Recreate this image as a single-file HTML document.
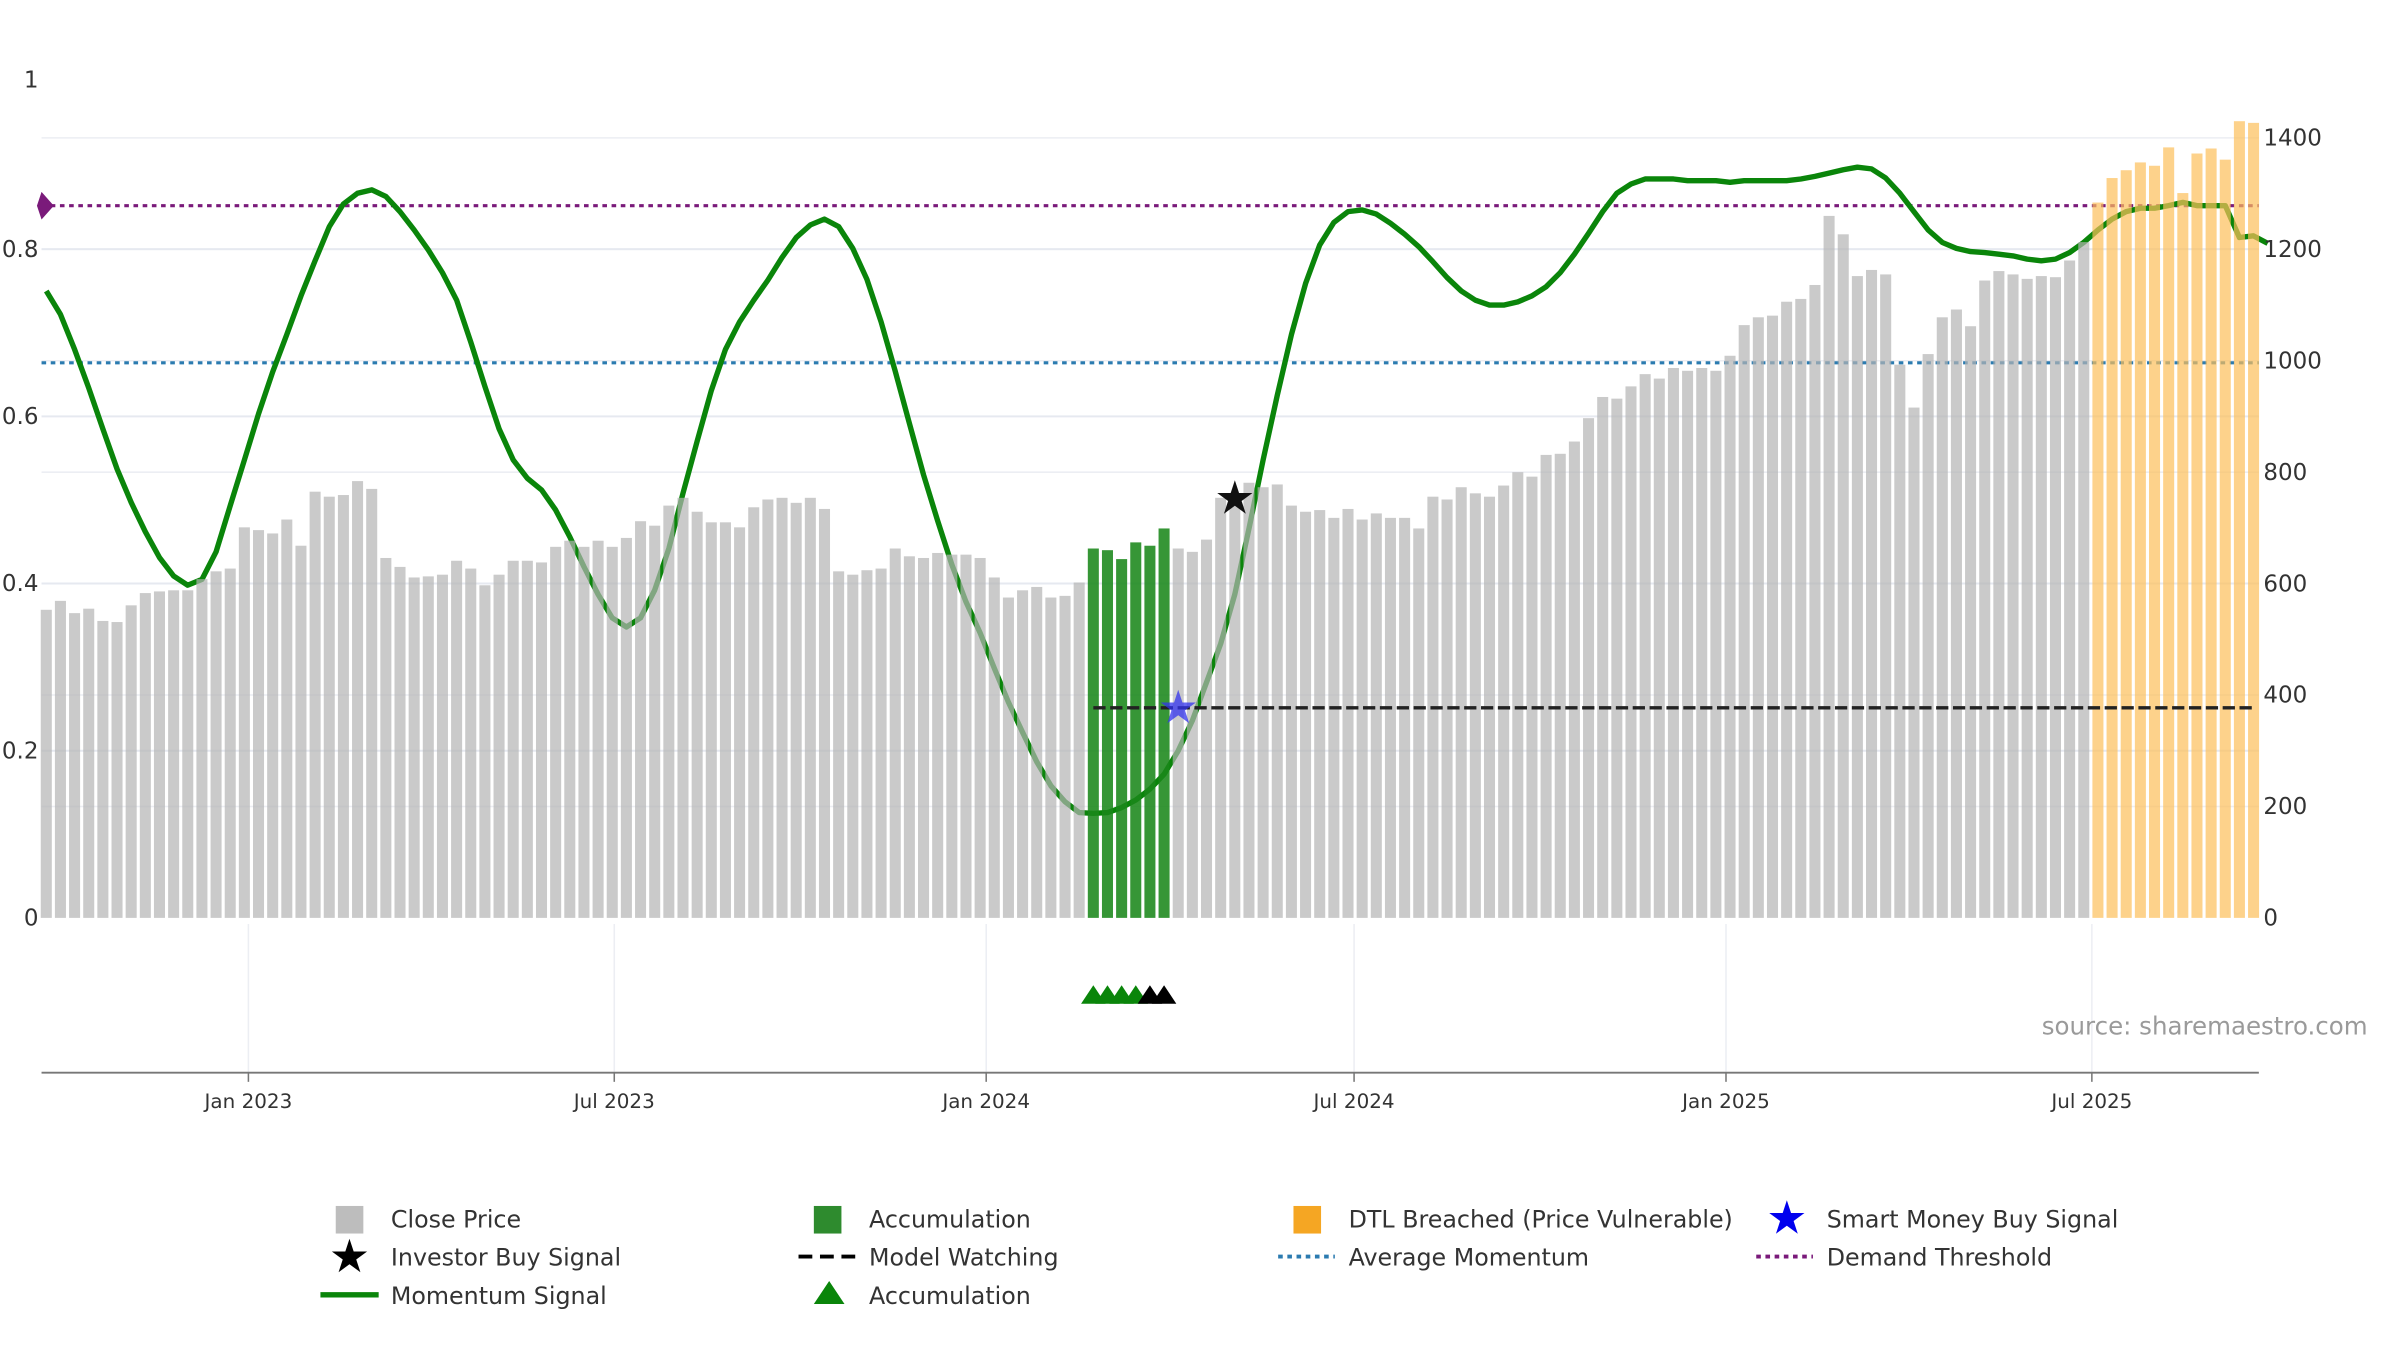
<!DOCTYPE html>
<html><head><meta charset="utf-8"><style>
html,body{margin:0;padding:0;background:#fff;}
svg{display:block;font-family:"DejaVu Sans","Liberation Sans",sans-serif;}
</style></head><body>
<svg id="chart" width="2400" height="1350" viewBox="0 0 1566 881" xmlns="http://www.w3.org/2000/svg">
<g id="grid"></g>
<g id="lines"></g>
<g id="momentum"></g>
<g id="bars"></g>
<g id="overlay"></g>
<g id="axes"></g>
<text x="1545" y="675" text-anchor="end" font-size="16" fill="#9a9a9a">source: sharemaestro.com</text>
<g id="legend" font-size="15.5" fill="#333">
 <g><rect x="219" y="787" width="18" height="18" fill="#bdbdbd"/><text x="255" y="801">Close Price</text></g>
 <g><rect x="531" y="787" width="18" height="18" fill="#2e8b2e"/><text x="567" y="801">Accumulation</text></g>
 <g><rect x="844" y="787" width="18" height="18" fill="#f5a623"/><text x="880" y="801">DTL Breached (Price Vulnerable)</text></g>
 <g><text x="1166" y="805" font-size="30" fill="#0000ee" text-anchor="middle">★</text><text x="1192" y="801">Smart Money Buy Signal</text></g>
 <g><text x="228" y="830" font-size="30" fill="#000" text-anchor="middle">★</text><text x="255" y="826">Investor Buy Signal</text></g>
 <g><line x1="521" y1="820" x2="558" y2="820" stroke="#000" stroke-width="2.5" stroke-dasharray="9,5"/><text x="567" y="826">Model Watching</text></g>
 <g><line x1="834" y1="820" x2="871" y2="820" stroke="#2b7bb0" stroke-width="2.5" stroke-dasharray="3,3"/><text x="880" y="826">Average Momentum</text></g>
 <g><line x1="1146" y1="820" x2="1183" y2="820" stroke="#7a1a7a" stroke-width="2.5" stroke-dasharray="3,3"/><text x="1192" y="826">Demand Threshold</text></g>
 <g><line x1="209" y1="845" x2="247" y2="845" stroke="#0a850a" stroke-width="3.5"/><text x="255" y="851">Momentum Signal</text></g>
 <g><polygon points="531,851 541,836 551,851" fill="#0a850a"/><text x="567" y="851">Accumulation</text></g>
</g>
</svg>
<script>
const startDate = "2022-09-23";
const closes = [553,569,547,555,533,531,561,583,586,588,588,608,622,627,701,696,690,715,668,765,756,759,784,770,646,630,611,613,616,641,627,597,616,641,641,638,666,677,666,677,666,682,712,704,740,754,729,710,710,701,737,751,754,745,754,734,622,616,624,627,663,649,646,655,652,652,646,611,575,588,594,575,578,602,663,660,644,674,668,699,663,657,679,754,762,781,773,778,740,729,732,718,734,715,726,718,718,699,756,751,773,762,756,776,800,792,831,833,855,897,935,932,954,976,968,987,982,987,982,1009,1064,1078,1081,1106,1111,1136,1260,1227,1152,1163,1155,993,916,1012,1078,1092,1062,1144,1161,1155,1147,1152,1150,1180,1213,1284,1328,1342,1356,1350,1383,1301,1372,1381,1361,1430,1427];
const accumulationIdx = [74,75,76,77,78,79];
const dtlStartIdx = 145;
const momentum = [.750,.722,.680,.634,.585,.537,.497,.462,.431,.409,.398,.405,.438,.493,.548,.603,.653,.698,.744,.786,.827,.854,.867,.871,.863,.845,.823,.799,.772,.739,.689,.636,.585,.548,.526,.512,.488,.456,.420,.387,.359,.348,.359,.392,.442,.508,.570,.631,.680,.713,.739,.763,.790,.814,.829,.836,.827,.801,.764,.713,.654,.592,.530,.475,.423,.378,.341,.299,.258,.222,.187,.158,.139,.126,.125,.126,.132,.141,.154,.172,.200,.236,.282,.328,.387,.466,.548,.625,.698,.759,.805,.832,.845,.847,.842,.831,.818,.803,.785,.766,.750,.739,.733,.733,.737,.744,.755,.772,.794,.819,.845,.867,.878,.884,.884,.884,.882,.882,.882,.880,.882,.882,.882,.882,.884,.887,.891,.895,.898,.896,.885,.867,.845,.823,.808,.801,.797,.796,.794,.792,.788,.786,.788,.796,.808,.823,.836,.845,.849,.849,.852,.856,.852,.852,.852,.814,.816,.807];
const avgMomentum = 0.664;
const demandThreshold = 0.852;
const modelWatchingPrice = 377;
const modelWatchingStartIdx = 74;
const smartMoneyIdx = [80];
const smartMoneyPrice = [377];
const investorBuyIdx = [84];
const investorBuyMomentum = [0.502];
const accumTriIdx = [74,75,76,77];
const watchTriIdx = [78,79];
const xTickDates = ["2023-01-01","2023-07-01","2024-01-01","2024-07-01","2025-01-01","2025-07-01"];
const xTickLabels = ["Jan 2023","Jul 2023","Jan 2024","Jul 2024","Jan 2025","Jul 2025"];
const leftTicks = [0,0.2,0.4,0.6,0.8];
const leftTickLabels = ["0","0.2","0.4","0.6","0.8"];
const rightTicks = [0,200,400,600,800,1000,1200,1400];

const NS="http://www.w3.org/2000/svg";
const DAY=86400000, REF=Date.parse("2023-01-01"), S0=Date.parse(startDate);
function xDate(ms){return 162+(ms-REF)/DAY*1.3191;}
function xIdx(i){return xDate(S0+i*7*DAY);}
function yL(v){return 599-v*545.5;}
function yR(v){return 599-v*0.36357;}
function mk(tag,attrs,parent){const e=document.createElementNS(NS,tag);for(const k in attrs)e.setAttribute(k,attrs[k]);parent.appendChild(e);return e;}
const G=id=>document.getElementById(id);
const L=27,R=1474;

rightTicks.forEach(t=>{if(t===0)return;const l=mk('line',{x1:L,x2:R,y1:yR(t),y2:yR(t),stroke:'#eceef3','stroke-width':1},G('grid'));

});
leftTicks.forEach(t=>{if(t===0)return;const l=mk('line',{x1:L,x2:R,y1:yL(t),y2:yL(t),stroke:'#e6e9f0','stroke-width':1.3},G('grid'));

});
xTickDates.forEach(d=>{const x=xDate(Date.parse(d));const l=mk('line',{x1:x,x2:x,y1:603,y2:700,stroke:'#eceef3','stroke-width':1},G('grid'));

});

let a=mk('line',{x1:L,x2:R,y1:yL(avgMomentum),y2:yL(avgMomentum),stroke:'#2b7bb0','stroke-width':2,'stroke-dasharray':'3,3'},G('lines'));


let d=mk('line',{x1:L,x2:R,y1:yL(demandThreshold),y2:yL(demandThreshold),stroke:'#7a1a7a','stroke-width':2,'stroke-dasharray':'3,3'},G('lines'));


let dm=mk('polygon',{points:`${L},${yL(demandThreshold)-9} ${L+8},${yL(demandThreshold)} ${L},${yL(demandThreshold)+9} ${L-3},${yL(demandThreshold)}`,fill:'#7a1a7a'},G('lines'));



let p=momentum.map((v,i)=>(i?'L':'M')+xIdx(i).toFixed(1)+','+yL(v).toFixed(1)).join(' ');
let ml=mk('path',{d:p,fill:'none',stroke:'#0a850a','stroke-width':3.5,'stroke-linejoin':'round'},G('momentum'));



closes.forEach((v,i)=>{
 const x=xIdx(i);let fill='#b4b4b4',op=0.7,name='close-price-bar';
 if(accumulationIdx.includes(i)){fill='#1a871a';op=0.88;name='accumulation-bar';}
 else if(i>=dtlStartIdx){fill='#fcbf5a';op=0.7;name='dtl-breached-bar';}
 const b=mk('rect',{x:x-3.6,y:yR(v),width:7.2,height:599-yR(v),fill:fill,'fill-opacity':op},G('bars'));
 
 
});

let mw=mk('line',{x1:xIdx(modelWatchingStartIdx),x2:R-4,y1:yR(modelWatchingPrice),y2:yR(modelWatchingPrice),stroke:'#222','stroke-width':2.2,'stroke-dasharray':'8,3'},G('overlay'));


smartMoneyIdx.forEach((ix,k)=>{const t=mk('text',{x:xIdx(ix),y:yR(smartMoneyPrice[k])+10,'font-size':30,'text-anchor':'middle',fill:'#3333ee','fill-opacity':0.75},G('overlay'));t.textContent='★';

});
investorBuyIdx.forEach((ix,k)=>{const t=mk('text',{x:xIdx(ix),y:yL(investorBuyMomentum[k])+10,'font-size':30,'text-anchor':'middle',fill:'#111'},G('overlay'));t.textContent='★';

});
function tri(ix,col,name){const x=xIdx(ix);const t=mk('polygon',{points:`${x-8},655 ${x},643 ${x+8},655`,fill:col},G('overlay'));

}
accumTriIdx.forEach(ix=>tri(ix,'#0a850a','accumulation-marker'));
watchTriIdx.forEach(ix=>tri(ix,'#000','watch-marker'));

let ax=mk('line',{x1:L,x2:R,y1:700,y2:700,stroke:'#777','stroke-width':1.2},G('axes'));


xTickDates.forEach((dd,k)=>{const x=xDate(Date.parse(dd));
 const tk=mk('line',{x1:x,x2:x,y1:700,y2:706,stroke:'#777'},G('axes'));
 
 
 const t=mk('text',{x:x,y:723,'font-size':13,'text-anchor':'middle',fill:'#333'},G('axes'));t.textContent=xTickLabels[k];
 
 });
leftTicks.forEach((v,k)=>{const t=mk('text',{x:25,y:yL(v)+5,'font-size':15,'text-anchor':'end',fill:'#333'},G('axes'));t.textContent=leftTickLabels[k];
 
 });
let one=mk('text',{x:25,y:57,'font-size':15,'text-anchor':'end',fill:'#333'},G('axes'));one.textContent='1';


rightTicks.forEach(v=>{const t=mk('text',{x:1477,y:yR(v)+5,'font-size':15,fill:'#333'},G('axes'));t.textContent=String(v);
 
 });
</script>
</body></html>
